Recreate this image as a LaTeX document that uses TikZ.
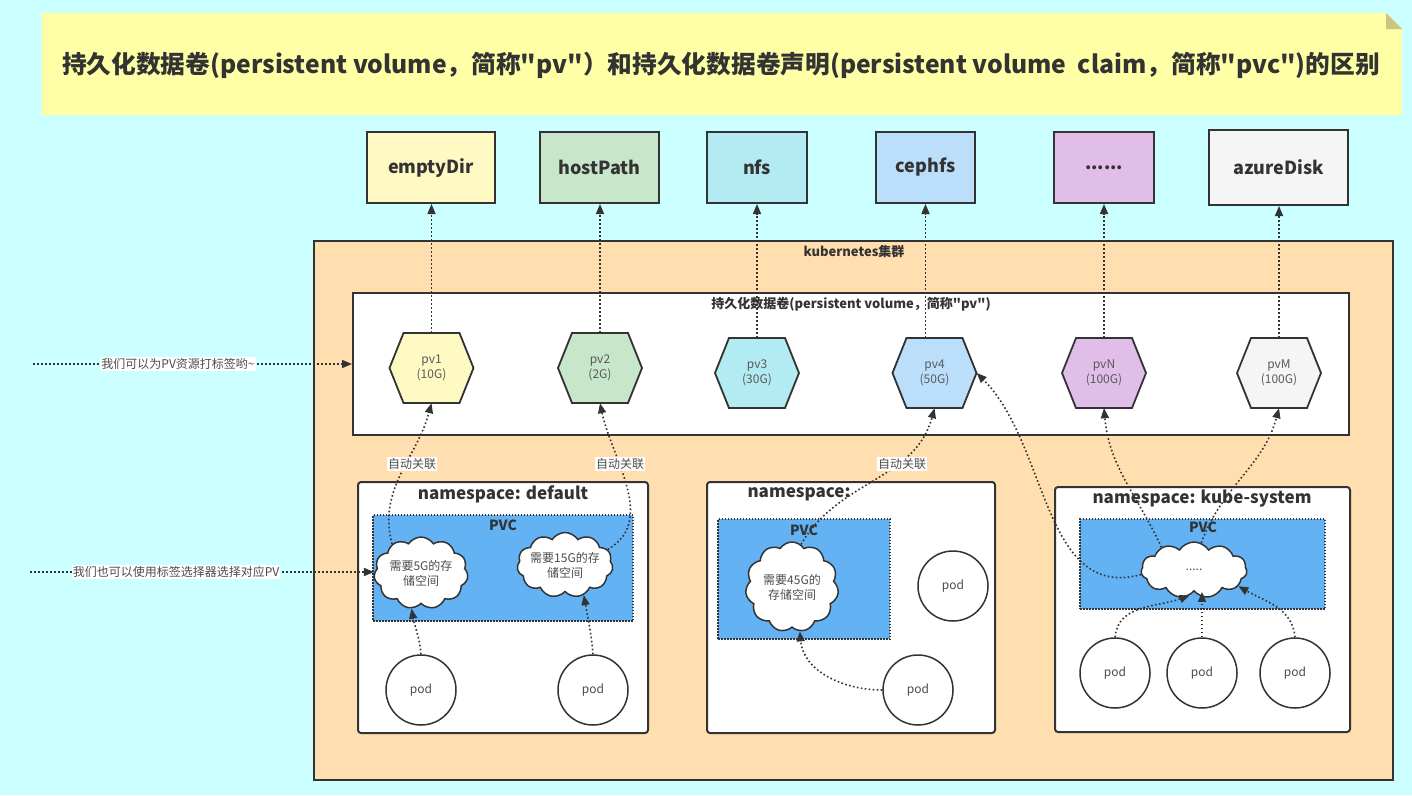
\documentclass[tikz,border=0pt]{standalone}
\usepackage{fontspec}
\newfontfamily\cjkf{Noto Sans CJK SC}
\usetikzlibrary{arrows.meta,shapes.symbols}
\definecolor{bg}{HTML}{CCFFFF}
\definecolor{lc}{HTML}{333333}
\definecolor{note}{HTML}{FFFFA6}
\definecolor{fold}{HTML}{CCC57E}
\definecolor{cluster}{HTML}{FFDFB0}
\definecolor{pvcblue}{HTML}{63B2F3}
\definecolor{cYel}{HTML}{FFF9C4}
\definecolor{cGrn}{HTML}{C8E6C9}
\definecolor{cCya}{HTML}{B2EBF2}
\definecolor{cBlu}{HTML}{BBDEFB}
\definecolor{cPur}{HTML}{E1BEE7}
\definecolor{cGry}{HTML}{F5F5F5}
\tikzset{
  topbox/.style={draw=lc, line width=2pt, inner sep=0, text=lc, font=\cjkf\bfseries\fontsize{18}{20}\selectfont},
  hexbox/.style={minimum width=84pt, minimum height=70pt, inner sep=0, align=center, text=black!65, font=\cjkf\fontsize{12}{15}\selectfont},
  conn/.style={draw=lc, line width=1.6pt, dash pattern=on 1.6pt off 2.4pt, -{Triangle[length=10pt,width=8pt]}},
  nsbox/.style={draw=lc, line width=2pt, fill=white, rounded corners=3pt, inner sep=0},
  pvcbox/.style={draw=lc, line width=1.5pt, dash pattern=on 1.5pt off 1.5pt, fill=pvcblue, inner sep=0},
  pod/.style={circle, draw=lc, line width=1.5pt, fill=white, minimum size=70pt, inner sep=0, text=black!70, font=\cjkf\fontsize{12}{14}\selectfont},
  cloudbox/.style={cloud, cloud puffs=11, cloud puff arc=115, cloud ignores aspect, draw=lc, line width=1.5pt, fill=white, inner sep=0},
  ctext/.style={align=center, text=black!70, font=\cjkf\fontsize{12}{15}\selectfont},
  lbl/.style={fill=white, inner sep=1pt, text=black!70, font=\cjkf\fontsize{12}{14}\selectfont},
  boldlbl/.style={text=lc, font=\cjkf\bfseries\fontsize{13}{15}\selectfont},
  nslbl/.style={text=lc, font=\cjkf\bfseries\fontsize{17}{19}\selectfont},
  pvclbl/.style={text=lc, font=\cjkf\bfseries\fontsize{14}{16}\selectfont}
}
\newcommand\hexnode[6]{%
  \path[draw=lc, line width=1.8pt, fill=#4] (#2-42,#3) -- (#2-28,#3-35) -- (#2+28,#3-35) -- (#2+42,#3) -- (#2+28,#3+35) -- (#2-28,#3+35) -- cycle;
  \node[hexbox] (#1) at (#2,#3) {#5\\#6};
}
\begin{document}
\cjkf
\begin{tikzpicture}[x=1pt,y=-1pt]
\fill[bg] (0,0) rectangle (1412,795);
\useasboundingbox (0,0) rectangle (1412,795);
% title note
\fill[note] (42,13) -- (1386,13) -- (1402,29) -- (1402,115) -- (42,115) -- cycle;
\fill[fold] (1386,13) -- (1386,29) -- (1402,29) -- cycle;
\node[text=lc, font=\cjkf\bfseries\fontsize{24.7}{28}\selectfont] (title) at (721,65) {持久化数据卷(persistent volume，简称"pv"）和持久化数据卷声明(persistent volume\ \ claim，简称"pvc")的区别};
% top boxes
\node[topbox, fill=cYel, minimum width=128pt, minimum height=71pt] (emptyDir) at (431,167.5) {emptyDir};
\node[topbox, fill=cGrn, minimum width=119pt, minimum height=71pt] (hostPath) at (599.5,167.5) {hostPath};
\node[topbox, fill=cCya, minimum width=100pt, minimum height=71pt] (nfs) at (757,167.5) {nfs};
\node[topbox, fill=cBlu, minimum width=99pt, minimum height=71pt] (cephfs) at (925.5,167.5) {cephfs};
\node[topbox, fill=cPur, minimum width=100pt, minimum height=71pt] (dots) at (1104,167.5) {......};
\node[topbox, fill=cGry, minimum width=139pt, minimum height=75pt] (azureDisk) at (1278.5,167.5) {azureDisk};
% cluster
\node[draw=lc, line width=2pt, fill=cluster, minimum width=1079pt, minimum height=539pt, inner sep=0] (k8s) at (853.5,510.5) {};
\node[boldlbl] (k8slbl) at (854,252) {kubernetes集群};
% pv box
\node[draw=lc, line width=2pt, fill=white, minimum width=996pt, minimum height=142pt, inner sep=0] (pvbox) at (851,364) {};
\node[boldlbl] (pvlbl) at (851,304) {持久化数据卷(persistent volume，简称"pv")};
% hexagons
\hexnode{pv1}{431.5}{368}{cYel}{pv1}{(10G)}
\hexnode{pv2}{600}{368}{cGrn}{pv2}{(2G)}
\hexnode{pv3}{757}{373}{cCya}{pv3}{(30G)}
\hexnode{pv4}{934.5}{373}{cBlu}{pv4}{(50G)}
\hexnode{pvN}{1104}{373}{cPur}{pvN}{(100G)}
\hexnode{pvM}{1279}{373}{cGry}{pvM}{(100G)}
% pv -> storage
\draw[conn] (pv1.north) -- (pv1.north |- emptyDir.south);
\draw[conn] (pv2.north) -- (pv2.north |- hostPath.south);
\draw[conn] (pv3.north) -- (pv3.north |- nfs.south);
\draw[conn] (cephfs.south |- pv4.north) -- (cephfs.south);
\draw[conn] (pvN.north) -- (pvN.north |- dots.south);
\draw[conn] (pvM.north) -- (pvM.north |- azureDisk.south);
% namespaces
\node[nsbox, minimum width=290pt, minimum height=251pt] (nsd) at (503,607.5) {};
\node[nsbox, minimum width=288pt, minimum height=251pt] (nsm) at (851,607.5) {};
\node[nsbox, minimum width=295pt, minimum height=245pt] (nsk) at (1202.5,609.5) {};
\node[nslbl] (nsdlbl) at (503,494) {namespace: default};
\node[nslbl, anchor=west] (nsmlbl) at (744,494) {namespace:};
\node[nslbl] (nsklbl) at (1202,499) {namespace: kube-system};
% pvc boxes
\node[pvcbox, minimum width=260pt, minimum height=106pt] (pvcd) at (503,568) {};
\node[pvcbox, minimum width=172pt, minimum height=120pt] (pvcm) at (804,579) {};
\node[pvcbox, minimum width=245pt, minimum height=90pt] (pvck) at (1202.5,564) {};
\node[pvclbl] (pvcdl) at (503,525) {PVC};
\node[pvclbl] (pvcml) at (804,530) {PVC};
\node[pvclbl] (pvckl) at (1203,527) {PVC};
% clouds
\node[cloudbox, minimum width=94pt, minimum height=72pt] (cl1) at (421,573) {};
\node[ctext] at (cl1) {需要5G的存\\储空间};
\node[cloudbox, minimum width=96pt, minimum height=65pt] (cl2) at (565,565) {};
\node[ctext] at (cl2) {需要15G的存\\储空间};
\node[cloudbox, minimum width=93pt, minimum height=90pt] (cl3) at (792,587) {};
\node[ctext] at (cl3) {需要45G的\\存储空间};
\node[cloudbox, minimum width=106pt, minimum height=56pt] (cl4) at (1194,570) {};
\node[ctext] at (cl4) {.....};
% pods
\node[pod] (pd1) at (421,690) {pod};
\node[pod] (pd2) at (593,690) {pod};
\node[pod] (pm1) at (953,586) {pod};
\node[pod] (pm2) at (918,690) {pod};
\node[pod] (pk1) at (1115,673) {pod};
\node[pod] (pk2) at (1202,673) {pod};
\node[pod] (pk3) at (1295,673) {pod};
% pod -> pvc
\draw[conn] (pd1.north) to[out=95,in=-80] (cl1.-105);
\draw[conn] (pd2.north) to[out=95,in=-80] (cl2.-58);
\draw[conn] (pm2.west) to[out=180,in=-85] (cl3.-80);
\draw[conn] (pk1.north) to[out=85,in=200] (cl4.-100);
\draw[conn] (pk2.north) -- (pk2.north |- cl4.south);
\draw[conn] (pk3.north) to[out=95,in=-30] (cl4.-20);
% pvc -> pv
\draw[conn] (cl1.135) to[out=105,in=-105] (pv1.south);
\draw[conn] (cl2.20) to[out=30,in=-78] (pv2.south);
\draw[conn] (cl3.78) to[out=60,in=-105] (pv4.south);
\draw[conn] (cl4.185) to[out=195,in=-45] (pv4.east);
\draw[conn] (cl4.145) to[out=115,in=-85] (pvN.south);
\draw[conn] (cl4.75) to[out=70,in=-105] (pvM.south);
\node[lbl] (a1) at (412,464) {自动关联};
\node[lbl] (a2) at (620,464) {自动关联};
\node[lbl] (a3) at (902,464) {自动关联};
% left notes
\coordinate (s1) at (33,364);
\coordinate (s2) at (30,572);
\draw[conn] (s1) -- (s1 -| pvbox.west);
\draw[conn] (s2) -- (s2 -| cl1.west);
\node[lbl] (n1) at (178,364) {我们可以为PV资源打标签哟\textasciitilde};
\node[lbl] (n2) at (176,572) {我们也可以使用标签选择器选择对应PV};
\end{tikzpicture}
\end{document}
